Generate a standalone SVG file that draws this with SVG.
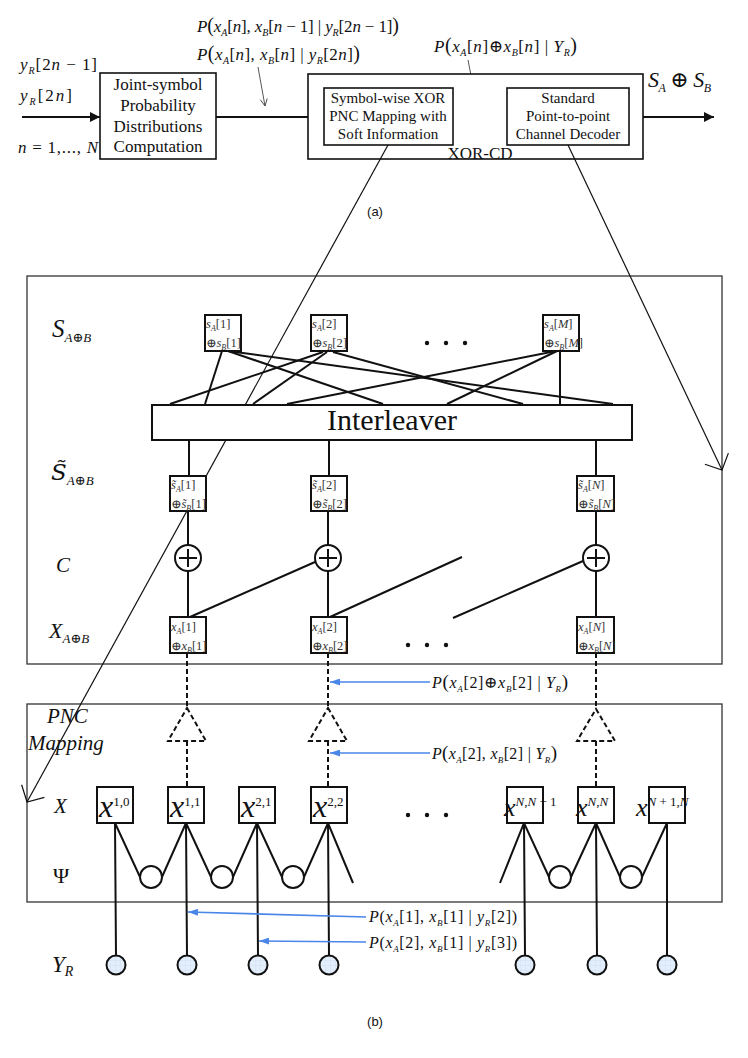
<svg xmlns="http://www.w3.org/2000/svg" width="748" height="1058" viewBox="0 0 748 1058">
<style>
.f{font-family:"Liberation Serif","DejaVu Serif",serif;fill:#111}
.dj{font-family:"DejaVu Serif",serif}
.sans{font-family:"Liberation Sans",Arial,sans-serif;fill:#111}
.i{font-style:italic}
.nt{fill:#333}
.box{fill:#fff;stroke:#111;stroke-width:1.6}
.big{fill:none;stroke:#333;stroke-width:1.3}
.nd{fill:#fff;stroke:#111;stroke-width:2}
.ln{stroke:#111;stroke-width:2;fill:none}
.thin{stroke:#111;stroke-width:1.2;fill:none}
.ann{stroke:#444;stroke-width:0.9;fill:none}
.dash{stroke:#111;stroke-width:2;fill:none;stroke-dasharray:5,3}
.blue{stroke:#4a86e8;stroke-width:1.6;fill:none}
.yr{fill:url(#grid);stroke:#111;stroke-width:2}
</style>
<defs>
<marker id="ah" markerUnits="userSpaceOnUse" viewBox="0 0 10 10" refX="10" refY="5" markerWidth="10" markerHeight="10" orient="auto"><path d="M0,0 L10,5 L0,10 z" fill="#111"/></marker>
<marker id="ahb" markerUnits="userSpaceOnUse" viewBox="0 0 10 7" refX="10" refY="3.5" markerWidth="10" markerHeight="7" orient="auto"><path d="M0,0 L10,3.5 L0,7 z" fill="#4a86e8"/></marker>
<marker id="vs" markerUnits="userSpaceOnUse" viewBox="-1 -5 9 10" refX="7" refY="0" markerWidth="9" markerHeight="10" orient="auto"><path d="M0,-3.5 L7,0 L0,3.5" fill="none" stroke="#444" stroke-width="0.9"/></marker>
<marker id="vb" markerUnits="userSpaceOnUse" viewBox="-1 -14 15 28" refX="12.5" refY="0" markerWidth="15" markerHeight="28" orient="auto"><path d="M0,-13 L12.5,0 L0,13" fill="none" stroke="#111" stroke-width="1.2"/></marker>
<pattern id="grid" width="5" height="5" patternUnits="userSpaceOnUse"><rect width="5" height="5" fill="#e4eefb"/><path d="M0,0 H5 M0,0 V5" stroke="#c2d6f2" stroke-width="0.6"/></pattern>
</defs>

<!-- ===== (a) ===== -->
<g id="a-labels">
<text class="f" x="20" y="70" font-size="17" textLength="77" lengthAdjust="spacing"><tspan class="i">y</tspan><tspan class="i" font-size="10" dy="4">R</tspan><tspan dy="-4">[2</tspan><tspan class="i">n</tspan> − 1]</text>
<text class="f" x="20" y="101" font-size="17" textLength="52" lengthAdjust="spacing"><tspan class="i">y</tspan><tspan class="i" font-size="10" dy="4">R</tspan><tspan dy="-4">[2</tspan><tspan class="i">n</tspan>]</text>
<text class="f" x="18" y="153" font-size="17" textLength="80" lengthAdjust="spacing"><tspan class="i">n</tspan> = 1,..., <tspan class="i">N</tspan></text>
<text class="f" x="197" y="32" font-size="17" textLength="202" lengthAdjust="spacing"><tspan class="i">P</tspan><tspan font-size="20">(</tspan><tspan class="i">x</tspan><tspan class="i" font-size="10" dy="4">A</tspan><tspan dy="-4">[</tspan><tspan class="i">n</tspan>], <tspan class="i">x</tspan><tspan class="i" font-size="10" dy="4">B</tspan><tspan dy="-4">[</tspan><tspan class="i">n</tspan> − 1] | <tspan class="i">y</tspan><tspan class="i" font-size="10" dy="4">R</tspan><tspan dy="-4">[2</tspan><tspan class="i">n</tspan> − 1]<tspan font-size="20">)</tspan></text>
<text class="f" x="197" y="60" font-size="17" textLength="163" lengthAdjust="spacing"><tspan class="i">P</tspan><tspan font-size="20">(</tspan><tspan class="i">x</tspan><tspan class="i" font-size="10" dy="4">A</tspan><tspan dy="-4">[</tspan><tspan class="i">n</tspan>], <tspan class="i">x</tspan><tspan class="i" font-size="10" dy="4">B</tspan><tspan dy="-4">[</tspan><tspan class="i">n</tspan>] | <tspan class="i">y</tspan><tspan class="i" font-size="10" dy="4">R</tspan><tspan dy="-4">[2</tspan><tspan class="i">n</tspan>]<tspan font-size="20">)</tspan></text>
<text class="f" x="434" y="52" font-size="17" textLength="143" lengthAdjust="spacing"><tspan class="i">P</tspan><tspan font-size="20">(</tspan><tspan class="i">x</tspan><tspan class="i" font-size="10" dy="4">A</tspan><tspan dy="-4">[</tspan><tspan class="i">n</tspan>]⊕<tspan class="i">x</tspan><tspan class="i" font-size="10" dy="4">B</tspan><tspan dy="-4">[</tspan><tspan class="i">n</tspan>] | <tspan class="i">Y</tspan><tspan class="i" font-size="10" dy="4">R</tspan><tspan dy="-4" font-size="20">)</tspan></text>
<text class="f" x="648" y="87" font-size="22" textLength="63" lengthAdjust="spacing"><tspan class="i">S</tspan><tspan class="i" font-size="12" dy="5">A</tspan><tspan dy="-5"> ⊕ </tspan><tspan class="i">S</tspan><tspan class="i" font-size="12" dy="5">B</tspan></text>
<text class="sans" x="375" y="216" font-size="13" text-anchor="middle">(a)</text>
</g>

<g id="a-connectors">
<line class="ln" x1="22" y1="117" x2="100" y2="117" marker-end="url(#ah)"/>
<line class="ln" x1="216" y1="117" x2="323" y2="117" marker-end="url(#ah)"/>
<line class="ln" x1="453" y1="117" x2="507" y2="117" marker-end="url(#ah)"/>
<line class="ln" x1="629" y1="117" x2="714" y2="117" marker-end="url(#ah)"/>
<line class="ann" x1="258" y1="67" x2="265" y2="106" marker-end="url(#vs)"/>
<line class="ann" x1="468" y1="60" x2="477" y2="106" marker-end="url(#vs)"/>
</g>

<g id="joint-box">
<rect class="box" x="100" y="73" width="116" height="86"/>
<text class="f" x="158" y="90" font-size="17" text-anchor="middle">Joint-symbol</text>
<text class="f" x="158" y="111" font-size="17" text-anchor="middle">Probability</text>
<text class="f" x="158" y="132" font-size="17" text-anchor="middle">Distributions</text>
<text class="f" x="158" y="152" font-size="17" text-anchor="middle">Computation</text>
</g>
<g id="xor-cd">
<rect class="box" x="308" y="74" width="335" height="85"/>
<text class="f" x="480" y="159" font-size="17" text-anchor="middle">XOR-CD</text>
</g>
<g id="pnc-map-box">
<rect class="box" x="324" y="88" width="129" height="57"/>
<text class="f" x="388" y="103" font-size="15" text-anchor="middle">Symbol-wise XOR</text>
<text class="f" x="388" y="121" font-size="15" text-anchor="middle">PNC Mapping with</text>
<text class="f" x="388" y="139" font-size="15" text-anchor="middle">Soft Information</text>
</g>
<g id="decoder-box">
<rect class="box" x="507" y="88" width="122" height="57"/>
<text class="f" x="568" y="103" font-size="15" text-anchor="middle">Standard</text>
<text class="f" x="568" y="121" font-size="15" text-anchor="middle">Point-to-point</text>
<text class="f" x="568" y="139" font-size="15" text-anchor="middle">Channel Decoder</text>
</g>

<!-- ===== (b) ===== -->
<g id="frames">
<rect class="big" x="27" y="276" width="695" height="388"/>
<rect class="big" x="27" y="704" width="695" height="198"/>
</g>

<g id="row-labels">
<text class="f" x="52" y="337" font-size="25"><tspan class="i">S</tspan><tspan class="i" font-size="13" dy="5">A</tspan><tspan font-size="13">⊕</tspan><tspan class="i" font-size="13">B</tspan></text>
<text class="f" x="51" y="480" font-size="23"><tspan class="i dj">S̃</tspan><tspan class="i" font-size="13" dy="5">A</tspan><tspan font-size="13">⊕</tspan><tspan class="i" font-size="13">B</tspan></text>
<text class="f i" x="56" y="572" font-size="21">C</text>
<text class="f" x="49" y="638" font-size="22"><tspan class="i">X</tspan><tspan class="i" font-size="13" dy="5">A</tspan><tspan font-size="13">⊕</tspan><tspan class="i" font-size="13">B</tspan></text>
<text class="f i" x="47" y="723" font-size="21">PNC</text>
<text class="f i" x="28" y="750" font-size="21">Mapping</text>
<text class="f i" x="54" y="813" font-size="21">X</text>
<text class="f" x="53" y="883" font-size="22">Ψ</text>
<text class="f" x="52" y="972" font-size="23"><tspan class="i">Y</tspan><tspan class="i" font-size="14" dy="4">R</tspan></text>
<text class="sans" x="375" y="1026" font-size="13" text-anchor="middle">(b)</text>
</g>

<g id="connectors">
<!-- S nodes to interleaver -->
<line class="ln" x1="222" y1="351" x2="205" y2="404"/>
<line class="ln" x1="228" y1="351" x2="383" y2="404"/>
<line class="ln" x1="228" y1="351" x2="613" y2="404"/>
<line class="ln" x1="323" y1="352" x2="170" y2="404"/>
<line class="ln" x1="327" y1="352" x2="253" y2="404"/>
<line class="ln" x1="333" y1="352" x2="523" y2="404"/>
<line class="ln" x1="560" y1="351" x2="560" y2="404"/>
<line class="ln" x1="557" y1="351" x2="447" y2="404"/>
<line class="ln" x1="556" y1="351" x2="287" y2="404"/>
<!-- interleaver to S~ -->
<line class="ln" x1="189" y1="440" x2="189" y2="476"/>
<line class="ln" x1="329" y1="440" x2="329" y2="476"/>
<line class="ln" x1="596" y1="440" x2="596" y2="476"/>
<!-- S~ to XOR to X -->
<line class="ln" x1="188" y1="511" x2="188" y2="617"/>
<line class="ln" x1="328" y1="511" x2="328" y2="617"/>
<line class="ln" x1="596" y1="511" x2="596" y2="617"/>
<line class="ln" x1="190" y1="617" x2="315" y2="562"/>
<line class="ln" x1="330" y1="617" x2="462" y2="557"/>
<line class="ln" x1="453" y1="618" x2="583" y2="561"/>
<!-- dashed PNC mapping -->
<line class="dash" x1="187" y1="653" x2="187" y2="708"/>
<line class="dash" x1="187" y1="741" x2="187" y2="787"/>
<line class="dash" x1="328" y1="653" x2="328" y2="708"/>
<line class="dash" x1="328" y1="741" x2="328" y2="787"/>
<line class="dash" x1="596" y1="653" x2="596" y2="709"/>
<line class="dash" x1="596" y1="741" x2="596" y2="787"/>
<path class="dash" d="M187,708 L206,741 L168,741 Z"/>
<path class="dash" d="M328,708 L347,741 L309,741 Z"/>
<path class="dash" d="M596,709 L615,741 L577,741 Z"/>
<!-- psi row -->
<path class="ln" d="M140,877 L115,823 L116,956"/>
<path class="ln" d="M162,877 L186,823 L211,877 M186,823 L187,956"/>
<path class="ln" d="M233,877 L257,823 L282,877 M257,823 L258,956"/>
<path class="ln" d="M304,877 L328,823 L353,883 M328,823 L329,956"/>
<path class="ln" d="M500,883 L524,823 L549,877 M524,823 L525,956"/>
<path class="ln" d="M571,877 L596,823 L620,877 M596,823 L597,956"/>
<path class="ln" d="M642,877 L667,823 L667,956"/>
<!-- long thin cross-reference arrows -->
<line class="thin" x1="388" y1="145" x2="27" y2="802" marker-end="url(#vb)"/>
<line class="thin" x1="568" y1="145" x2="722" y2="470" marker-end="url(#vb)"/>
<!-- blue annotation arrows -->
<line class="blue" x1="430" y1="682" x2="330" y2="682" marker-end="url(#ahb)"/>
<line class="blue" x1="430" y1="753" x2="330" y2="753" marker-end="url(#ahb)"/>
<line class="blue" x1="366" y1="917" x2="188" y2="912" marker-end="url(#ahb)"/>
<line class="blue" x1="366" y1="942" x2="259" y2="941" marker-end="url(#ahb)"/>
</g>

<g id="interleaver">
<rect class="nd" x="152" y="405" width="480" height="35"/>
<text class="f" x="392" y="430" font-size="30" text-anchor="middle">Interleaver</text>
</g>

<g id="s-node-1">
<rect class="nd" x="205" y="315" width="36" height="36"/>
<text class="f nt" x="206" y="328" font-size="12.5"><tspan class="i">s</tspan><tspan class="i" font-size="8" dy="2.5">A</tspan><tspan dy="-2.5">[1]</tspan></text>
<text class="f nt" x="206" y="347" font-size="12.5">⊕<tspan class="i">s</tspan><tspan class="i" font-size="8" dy="2.5">B</tspan><tspan dy="-2.5">[1]</tspan></text>
</g>
<g id="s-node-2">
<rect class="nd" x="311" y="315" width="36" height="36"/>
<text class="f nt" x="312" y="328" font-size="12.5"><tspan class="i">s</tspan><tspan class="i" font-size="8" dy="2.5">A</tspan><tspan dy="-2.5">[2]</tspan></text>
<text class="f nt" x="312" y="347" font-size="12.5">⊕<tspan class="i">s</tspan><tspan class="i" font-size="8" dy="2.5">B</tspan><tspan dy="-2.5">[2]</tspan></text>
</g>
<g id="s-node-M">
<rect class="nd" x="543" y="315" width="36" height="36"/>
<text class="f nt" x="544" y="328" font-size="12.5"><tspan class="i">s</tspan><tspan class="i" font-size="8" dy="2.5">A</tspan><tspan dy="-2.5">[</tspan><tspan class="i">M</tspan>]</text>
<text class="f nt" x="544" y="347" font-size="12.5">⊕<tspan class="i">s</tspan><tspan class="i" font-size="8" dy="2.5">B</tspan><tspan dy="-2.5">[</tspan><tspan class="i">M</tspan>]</text>
</g>
<g id="s-dots" fill="#111">
<circle cx="427" cy="343" r="2.2"/><circle cx="446" cy="343" r="2.2"/><circle cx="465" cy="343" r="2.2"/>
</g>

<g id="st-node-1">
<rect class="nd" x="170" y="476" width="36" height="35"/>
<text class="f nt" x="171" y="489" font-size="12.5"><tspan class="i">s̃</tspan><tspan class="i" font-size="8" dy="2.5">A</tspan><tspan dy="-2.5">[1]</tspan></text>
<text class="f nt" x="171" y="508" font-size="12.5">⊕<tspan class="i">s̃</tspan><tspan class="i" font-size="8" dy="2.5">B</tspan><tspan dy="-2.5">[1]</tspan></text>
</g>
<g id="st-node-2">
<rect class="nd" x="311" y="476" width="36" height="35"/>
<text class="f nt" x="312" y="489" font-size="12.5"><tspan class="i">s̃</tspan><tspan class="i" font-size="8" dy="2.5">A</tspan><tspan dy="-2.5">[2]</tspan></text>
<text class="f nt" x="312" y="508" font-size="12.5">⊕<tspan class="i">s̃</tspan><tspan class="i" font-size="8" dy="2.5">B</tspan><tspan dy="-2.5">[2]</tspan></text>
</g>
<g id="st-node-N">
<rect class="nd" x="577" y="476" width="37" height="35"/>
<text class="f nt" x="578" y="489" font-size="12.5"><tspan class="i">s̃</tspan><tspan class="i" font-size="8" dy="2.5">A</tspan><tspan dy="-2.5">[</tspan><tspan class="i">N</tspan>]</text>
<text class="f nt" x="578" y="508" font-size="12.5">⊕<tspan class="i">s̃</tspan><tspan class="i" font-size="8" dy="2.5">B</tspan><tspan dy="-2.5">[</tspan><tspan class="i">N</tspan>]</text>
</g>

<g id="xor-1"><circle class="nd" cx="188" cy="558" r="13"/><path class="ln" d="M179,558 H197 M188,549 V567"/></g>
<g id="xor-2"><circle class="nd" cx="328" cy="558" r="13"/><path class="ln" d="M319,558 H337 M328,549 V567"/></g>
<g id="xor-N"><circle class="nd" cx="596" cy="558" r="13"/><path class="ln" d="M587,558 H605 M596,549 V567"/></g>

<g id="x-node-1">
<rect class="nd" x="170" y="617" width="36" height="36"/>
<text class="f nt" x="171" y="631" font-size="12.5"><tspan class="i">x</tspan><tspan class="i" font-size="8" dy="2.5">A</tspan><tspan dy="-2.5">[1]</tspan></text>
<text class="f nt" x="171" y="650" font-size="12.5">⊕<tspan class="i">x</tspan><tspan class="i" font-size="8" dy="2.5">B</tspan><tspan dy="-2.5">[1]</tspan></text>
</g>
<g id="x-node-2">
<rect class="nd" x="311" y="617" width="36" height="36"/>
<text class="f nt" x="312" y="631" font-size="12.5"><tspan class="i">x</tspan><tspan class="i" font-size="8" dy="2.5">A</tspan><tspan dy="-2.5">[2]</tspan></text>
<text class="f nt" x="312" y="650" font-size="12.5">⊕<tspan class="i">x</tspan><tspan class="i" font-size="8" dy="2.5">B</tspan><tspan dy="-2.5">[2]</tspan></text>
</g>
<g id="x-node-N">
<rect class="nd" x="577" y="617" width="37" height="36"/>
<text class="f nt" x="578" y="631" font-size="12.5"><tspan class="i">x</tspan><tspan class="i" font-size="8" dy="2.5">A</tspan><tspan dy="-2.5">[</tspan><tspan class="i">N</tspan>]</text>
<text class="f nt" x="578" y="650" font-size="12.5">⊕<tspan class="i">x</tspan><tspan class="i" font-size="8" dy="2.5">B</tspan><tspan dy="-2.5">[</tspan><tspan class="i">N</tspan>]</text>
</g>
<g id="x-dots" fill="#111">
<circle cx="408" cy="645" r="2.2"/><circle cx="427" cy="645" r="2.2"/><circle cx="446" cy="645" r="2.2"/>
</g>

<g id="blue-labels">
<text class="f" x="432" y="688" font-size="16" textLength="136" lengthAdjust="spacing"><tspan class="i">P</tspan><tspan font-size="19">(</tspan><tspan class="i">x</tspan><tspan class="i" font-size="9" dy="4">A</tspan><tspan dy="-4">[2]⊕</tspan><tspan class="i">x</tspan><tspan class="i" font-size="9" dy="4">B</tspan><tspan dy="-4">[2] | </tspan><tspan class="i">Y</tspan><tspan class="i" font-size="9" dy="4">R</tspan><tspan dy="-4" font-size="19">)</tspan></text>
<text class="f" x="432" y="759" font-size="16" textLength="125" lengthAdjust="spacing"><tspan class="i">P</tspan><tspan font-size="19">(</tspan><tspan class="i">x</tspan><tspan class="i" font-size="9" dy="4">A</tspan><tspan dy="-4">[2], </tspan><tspan class="i">x</tspan><tspan class="i" font-size="9" dy="4">B</tspan><tspan dy="-4">[2] | </tspan><tspan class="i">Y</tspan><tspan class="i" font-size="9" dy="4">R</tspan><tspan dy="-4" font-size="19">)</tspan></text>
<text class="f" x="369" y="922" font-size="16" textLength="148" lengthAdjust="spacing"><tspan class="i">P</tspan>(<tspan class="i">x</tspan><tspan class="i" font-size="9" dy="4">A</tspan><tspan dy="-4">[1], </tspan><tspan class="i">x</tspan><tspan class="i" font-size="9" dy="4">B</tspan><tspan dy="-4">[1] | </tspan><tspan class="i">y</tspan><tspan class="i" font-size="9" dy="4">R</tspan><tspan dy="-4">[2])</tspan></text>
<text class="f" x="369" y="948" font-size="16" textLength="148" lengthAdjust="spacing"><tspan class="i">P</tspan>(<tspan class="i">x</tspan><tspan class="i" font-size="9" dy="4">A</tspan><tspan dy="-4">[2], </tspan><tspan class="i">x</tspan><tspan class="i" font-size="9" dy="4">B</tspan><tspan dy="-4">[1] | </tspan><tspan class="i">y</tspan><tspan class="i" font-size="9" dy="4">R</tspan><tspan dy="-4">[3])</tspan></text>
</g>

<g id="xv-10"><rect class="nd" x="97" y="787" width="36" height="36"/><text class="f" x="99" y="817"><tspan class="i" font-size="32">x</tspan><tspan font-size="13" dy="-11">1,0</tspan></text></g>
<g id="xv-11"><rect class="nd" x="168" y="787" width="36" height="36"/><text class="f" x="170" y="817"><tspan class="i" font-size="32">x</tspan><tspan font-size="13" dy="-11">1,1</tspan></text></g>
<g id="xv-21"><rect class="nd" x="239" y="787" width="36" height="36"/><text class="f" x="241" y="817"><tspan class="i" font-size="32">x</tspan><tspan font-size="13" dy="-11">2,1</tspan></text></g>
<g id="xv-22"><rect class="nd" x="311" y="787" width="36" height="36"/><text class="f" x="313" y="817"><tspan class="i" font-size="32">x</tspan><tspan font-size="13" dy="-11">2,2</tspan></text></g>
<g id="xv-dots" fill="#111"><circle cx="408" cy="815" r="2.2"/><circle cx="427" cy="815" r="2.2"/><circle cx="446" cy="815" r="2.2"/></g>
<g id="xv-NN1"><rect class="nd" x="507" y="787" width="36" height="36"/><text class="f" x="504" y="816"><tspan class="i" font-size="26">x</tspan><tspan font-size="13" dy="-10"><tspan class="i">N</tspan>,<tspan class="i">N</tspan> − 1</tspan></text></g>
<g id="xv-NN"><rect class="nd" x="578" y="787" width="36" height="36"/><text class="f" x="576" y="816"><tspan class="i" font-size="26">x</tspan><tspan font-size="13" dy="-10"><tspan class="i">N</tspan>,<tspan class="i">N</tspan></tspan></text></g>
<g id="xv-N1N"><rect class="nd" x="649" y="787" width="36" height="36"/><text class="f" x="636" y="816"><tspan class="i" font-size="26">x</tspan><tspan font-size="13" dy="-10"><tspan class="i">N</tspan> + 1,<tspan class="i">N</tspan></tspan></text></g>

<g id="psi-nodes">
<circle class="nd" cx="151" cy="877" r="11"/>
<circle class="nd" cx="222" cy="877" r="11"/>
<circle class="nd" cx="293" cy="877" r="11"/>
<circle class="nd" cx="560" cy="877" r="11"/>
<circle class="nd" cx="631" cy="877" r="11"/>
</g>

<g id="yr-nodes">
<circle class="yr" cx="116" cy="965" r="9.5"/>
<circle class="yr" cx="187" cy="965" r="9.5"/>
<circle class="yr" cx="258" cy="965" r="9.5"/>
<circle class="yr" cx="329" cy="965" r="9.5"/>
<circle class="yr" cx="525" cy="965" r="9.5"/>
<circle class="yr" cx="597" cy="965" r="9.5"/>
<circle class="yr" cx="667" cy="965" r="9.5"/>
</g>
</svg>
